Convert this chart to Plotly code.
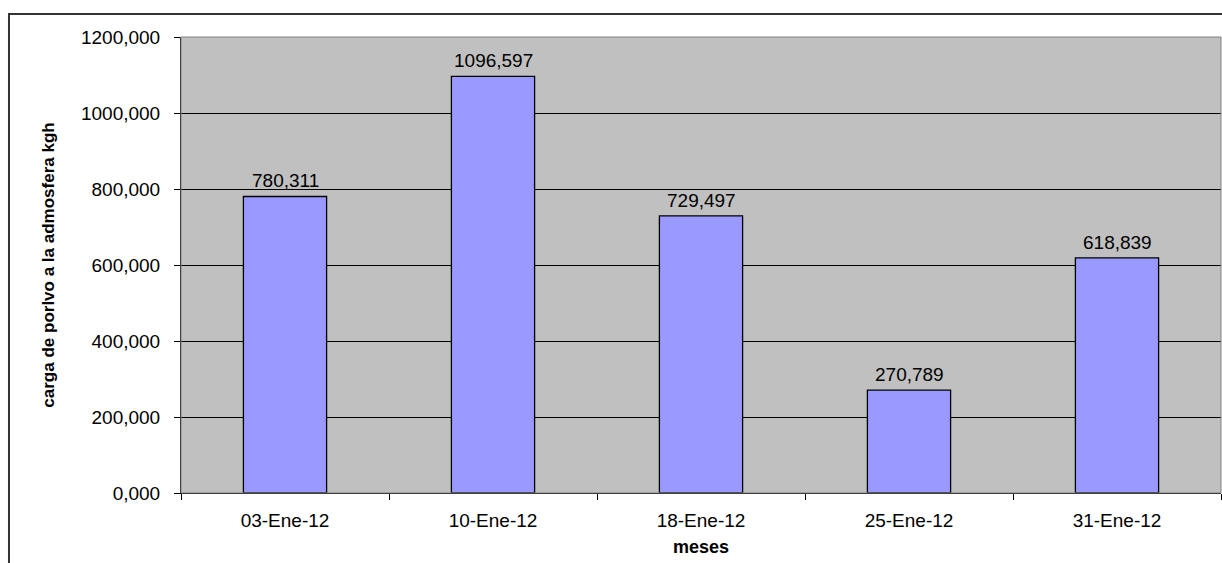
import plotly.graph_objects as go

categories = ["03-Ene-12", "10-Ene-12", "18-Ene-12", "25-Ene-12", "31-Ene-12"]
values = [780.311, 1096.597, 729.497, 270.789, 618.839]
y_ticks = [0, 200, 400, 600, 800, 1000, 1200]

FONT = "Liberation Sans, Arial, sans-serif"

fig = go.Figure(go.Bar(
    x=categories, y=values,
    marker=dict(color="#9999FF", line=dict(color="#000000", width=1.3)),
    hoverinfo="x+y",
))

for c, v in zip(categories, values):
    fig.add_annotation(
        x=c, y=v, text=f"{v:.3f}".replace(".", ","), showarrow=False,
        yanchor="bottom", yshift=3,
        font=dict(family=FONT, size=19, color="#000000"),
    )

fig.update_layout(
    width=1222, height=563,
    margin=dict(l=181, r=1, t=37, b=70),
    paper_bgcolor="#FFFFFF", plot_bgcolor="#C0C0C0",
    separators=",.",
    bargap=0.6,
    showlegend=False,
    font=dict(family=FONT, color="#000000"),
    shapes=[
        dict(type="rect", xref="paper", yref="paper", x0=0, x1=1, y0=0, y1=1,
             line=dict(color="#808080", width=1), layer="above"),
        dict(type="rect", xref="paper", yref="paper", x0=-0.1654, x1=1.05, y0=-0.2, y1=1.0504,
             line=dict(color="#333333", width=2)),
    ],
)
fig.update_xaxes(
    type="category", showgrid=False, showline=True, linecolor="#000000", linewidth=1,
    ticks="outside", tickson="boundaries", ticklen=6, tickcolor="#000000",
    tickfont=dict(family=FONT, size=19), ticklabelstandoff=10,
    title=dict(text="<b>meses</b>", font=dict(family=FONT, size=18), standoff=10),
)
fig.update_yaxes(
    range=[0, 1200], tickvals=y_ticks, tickformat=".3f",
    showgrid=True, gridcolor="#000000", gridwidth=1,
    showline=True, linecolor="#000000", linewidth=1,
    ticks="outside", ticklen=6, tickcolor="#000000",
    tickfont=dict(family=FONT, size=19), ticklabelstandoff=10,
    zeroline=False,
    title=dict(text="<b>carga de porlvo a la admosfera kgh</b>", font=dict(family=FONT, size=17), standoff=22),
)

fig.write_html("out.html")
